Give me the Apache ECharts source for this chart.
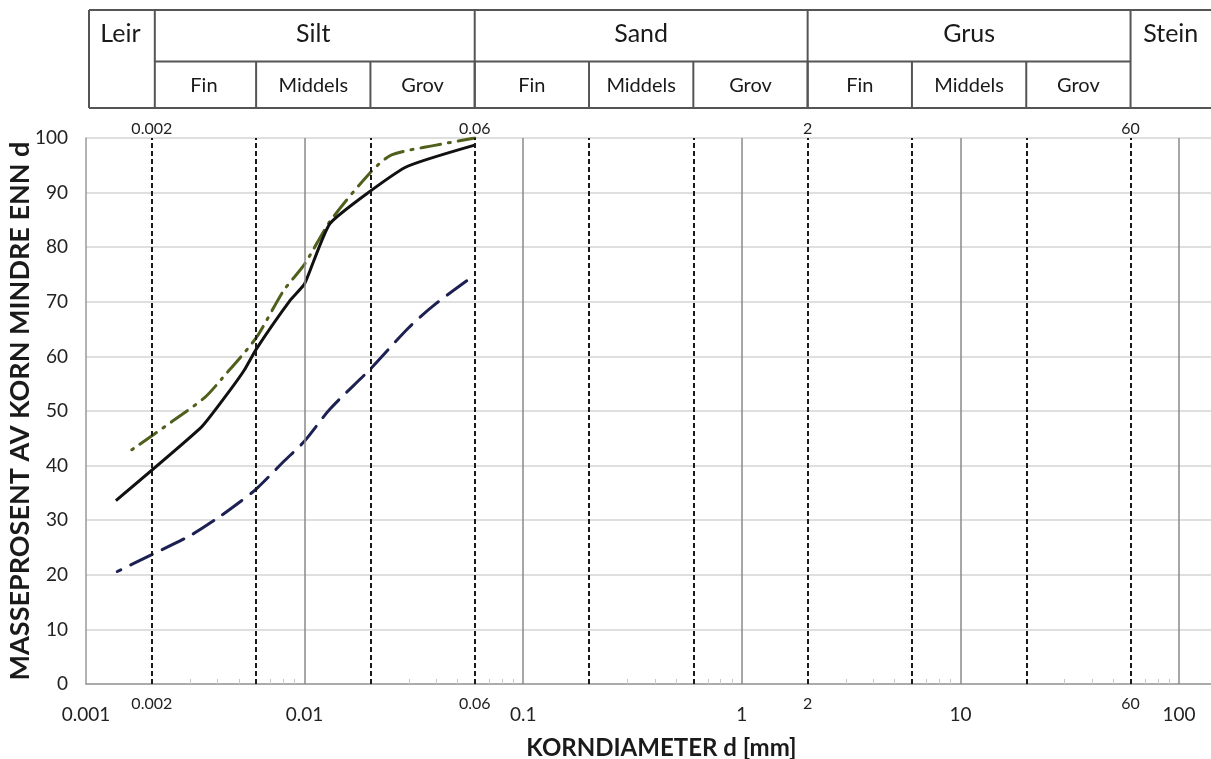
<!DOCTYPE html>
<html>
<head>
<meta charset="utf-8">
<script src="https://cdn.jsdelivr.net/npm/echarts@6/dist/echarts.min.js"></script>
<style>
html,body{margin:0;padding:0;background:#fff;}
#chart{width:1211px;height:759px;}
</style>
</head>
<body>
<div id="chart"></div>
<script>
// ---- data ----
const solidCurve = [[0.00137,33.6],[0.00338,47.1],[0.0045,53.5],[0.0053,57.5],[0.006,61.3],[0.0086,70.3],[0.01,73.3],[0.0131,84.4],[0.0288,94.6],[0.06,98.7]];
const oliveCurve = [[0.00162,42.9],[0.0025,48.2],[0.0035,52.5],[0.0042,56],[0.006,63.4],[0.008,72],[0.01,76.9],[0.0131,84.8],[0.02,93.7],[0.025,96.9],[0.04,98.7],[0.06,100]];
const navyCurve = [[0.00139,20.6],[0.002,23.7],[0.003,27.2],[0.004,30.4],[0.005,33.2],[0.006,35.7],[0.008,40.7],[0.01,44.5],[0.0131,50.4],[0.02,57.7],[0.03,65.3],[0.04,69.7],[0.06,74.9]];

const decadeLines = [0.01, 0.1, 1, 10, 100];
const fractionLines = [0.002, 0.006, 0.02, 0.06, 0.2, 0.6, 2, 6, 20, 60];
const majorLabels = [0.001, 0.01, 0.1, 1, 10, 100];
const boundaryLabels = [0.002, 0.06, 2, 60];
const minorTicks = [0.003,0.004,0.005,0.007,0.008,0.009,0.03,0.04,0.05,0.07,0.08,0.09,0.3,0.4,0.5,0.7,0.8,0.9,3,4,5,7,8,9,30,40,50,70,80,90];

const fractionTop = ['Leir','Silt','Sand','Grus','Stein'];
const fractionTopBounds = [0.001, 0.002, 0.06, 2, 60, 140];
const fractionSub = ['Fin','Middels','Grov','Fin','Middels','Grov','Fin','Middels','Grov'];
const fractionSubBounds = [0.002, 0.006, 0.02, 0.06, 0.2, 0.6, 2, 6, 20, 60];

const xTitle = 'KORNDIAMETER d [mm]';
const yTitle = 'MASSEPROSENT AV KORN MINDRE ENN d';

const FONT = 'Lato';
const X_MIN = 0.001, X_MAX = 140;

const chart = echarts.init(document.getElementById('chart'));

const fmt = v => String(v);

const vlines = [];
decadeLines.forEach(v => vlines.push({xAxis: v, lineStyle: {color: '#8a8a8a', width: 1.5, type: 'solid'}}));
fractionLines.forEach(v => vlines.push({xAxis: v, lineStyle: {color: '#1a1a1a', width: 2, type: [5, 3]}}));

const option = {
  animation: false,
  backgroundColor: '#fff',
  textStyle: {fontFamily: FONT},
  grid: {left: 86, right: 0, top: 138, bottom: 75, containLabel: false, outerBoundsMode: 'none'},
  xAxis: [
    {
      type: 'log', logBase: 10, min: X_MIN, max: X_MAX, position: 'bottom',
      axisLine: {show: true, lineStyle: {color: '#9a9a9a', width: 1.5}},
      axisTick: {show: false},
      splitLine: {show: false},
      axisLabel: {customValues: majorLabels, formatter: fmt, fontSize: 19, color: '#222', margin: 21, fontFamily: FONT},
      name: xTitle, nameLocation: 'middle', nameGap: 52, nameMoveOverlap: false,
      nameTextStyle: {fontSize: 24, fontWeight: 'bold', color: '#1a1a1a', fontFamily: FONT, padding: [0, 0, 0, 26]}
    },
    {
      type: 'log', logBase: 10, min: X_MIN, max: X_MAX, position: 'bottom',
      axisLine: {show: false},
      axisTick: {show: true, inside: true, length: 5, customValues: minorTicks, lineStyle: {color: '#c8c8c8', width: 1}},
      splitLine: {show: false},
      axisLabel: {customValues: boundaryLabels, formatter: fmt, fontSize: 16, color: '#222', margin: 12, fontFamily: FONT}
    },
    {
      type: 'log', logBase: 10, min: X_MIN, max: X_MAX, position: 'top',
      axisLine: {show: false},
      axisTick: {show: false},
      splitLine: {show: false},
      axisLabel: {customValues: boundaryLabels, formatter: fmt, fontSize: 16, color: '#222', margin: 1, fontFamily: FONT}
    }
  ],
  yAxis: {
    type: 'value', min: 0, max: 100, interval: 10,
    axisLine: {show: true, lineStyle: {color: '#9a9a9a', width: 1.5}},
    axisTick: {show: false},
    splitLine: {show: true, lineStyle: {color: '#d4d4d4', width: 1.5}},
    axisLabel: {fontSize: 19, color: '#222', margin: 18, fontFamily: FONT},
    name: yTitle, nameLocation: 'middle', nameGap: 52, nameRotate: 90, nameMoveOverlap: false,
    nameTextStyle: {fontSize: 27, fontWeight: 'bold', color: '#1a1a1a', fontFamily: FONT}
  },
  series: [
    {
      type: 'line', data: [], xAxisIndex: 0, z: 1, silent: true,
      markLine: {silent: true, symbol: 'none', precision: 8, label: {show: false}, animation: false, data: vlines}
    },
    {
      type: 'line', data: navyCurve, xAxisIndex: 0, smooth: 0.3, showSymbol: false, z: 3,
      lineStyle: {color: '#1c2152', width: 3, type: [24, 11], dashOffset: 20, cap: 'round'}
    },
    {
      type: 'line', data: oliveCurve, xAxisIndex: 0, smooth: 0.25, showSymbol: false, z: 3,
      lineStyle: {color: '#4f5f1c', width: 3, type: [20, 8, 2, 8], dashOffset: 28, cap: 'round'}
    },
    {
      type: 'line', data: solidCurve, xAxisIndex: 0, smooth: 0.15, showSymbol: false, z: 4,
      lineStyle: {color: '#111', width: 3}
    }
  ]
};
chart.setOption(option);

// ---- header table, positioned through the x axis ----
const px = v => chart.convertToPixel({xAxisIndex: 0}, v);
const Y_TOP = 10, Y_MID = 61.5, Y_BOT = 108;
const W = chart.getWidth();
const lineStyle = {stroke: '#555', lineWidth: 2};
const g = [];
const left = px(fractionTopBounds[0]) + 3;
// horizontal borders
g.push({type: 'line', shape: {x1: left, y1: Y_TOP, x2: W + 5, y2: Y_TOP}, style: lineStyle});
g.push({type: 'line', shape: {x1: left, y1: Y_BOT, x2: W + 5, y2: Y_BOT}, style: lineStyle});
g.push({type: 'line', shape: {x1: px(fractionTopBounds[1]) + 3, y1: Y_MID, x2: px(fractionTopBounds[4]), y2: Y_MID}, style: lineStyle});
// main vertical dividers
for (let i = 0; i < fractionTopBounds.length - 1; i++) {
  const x = i === 0 ? left : px(fractionTopBounds[i]) + (i === 1 ? 3 : 0);
  g.push({type: 'line', shape: {x1: x, y1: Y_TOP, x2: x, y2: Y_BOT}, style: lineStyle});
}
// sub dividers
for (let i = 1; i < fractionSubBounds.length - 1; i++) {
  const x = px(fractionSubBounds[i]);
  g.push({type: 'line', shape: {x1: x, y1: Y_MID, x2: x, y2: Y_BOT}, style: lineStyle});
}
// top texts
for (let i = 0; i < fractionTop.length; i++) {
  let a = i === 0 ? left : px(fractionTopBounds[i]);
  let b = px(fractionTopBounds[i + 1]);
  g.push({type: 'text', x: (a + b) / 2, y: 34, style: {text: fractionTop[i], font: '25px ' + FONT, fill: '#1a1a1a', align: 'center', verticalAlign: 'middle'}});
}
// sub texts
for (let i = 0; i < fractionSub.length; i++) {
  const a = px(fractionSubBounds[i]), b = px(fractionSubBounds[i + 1]);
  g.push({type: 'text', x: (a + b) / 2, y: 86, style: {text: fractionSub[i], font: '20px ' + FONT, fill: '#1a1a1a', align: 'center', verticalAlign: 'middle'}});
}
chart.setOption({graphic: g});
</script>
</body>
</html>
